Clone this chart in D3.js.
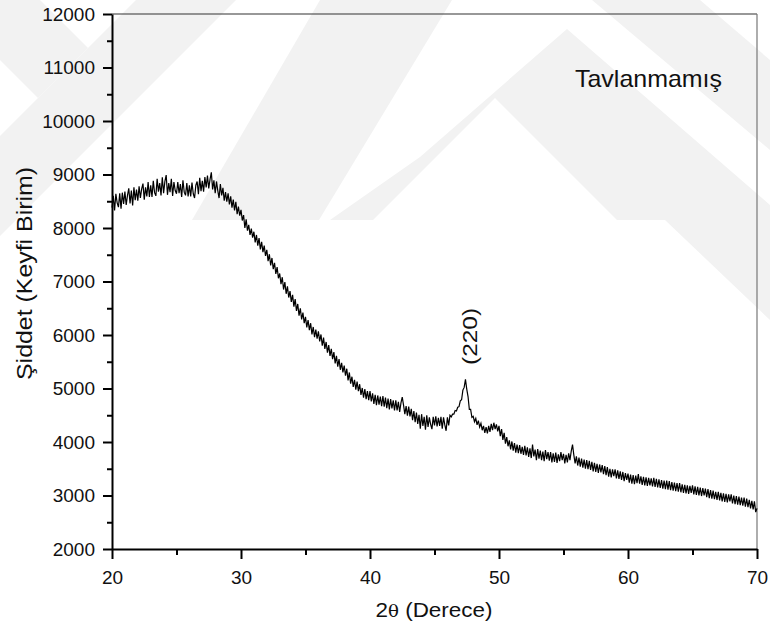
<!DOCTYPE html>
<html>
<head>
<meta charset="utf-8">
<script src="https://cdn.jsdelivr.net/npm/d3@7"></script>
<style>
  body { margin: 0; background: #fff; }
  text { font-family: "Liberation Sans", Arial, sans-serif; fill: #111; }
</style>
</head>
<body>
<svg width="770" height="637"></svg>
<script>
// 2-theta scan, one reading every 0.1 degree starting at 20
var angleStart = 20;
var angleStep = 0.1;

// Intensity, 20.0 -> 70.0
var intensity = [
  8380, 8600, 8330, 8640, 8470, 8390, 8650, 8360, 8660, 8450,
  8680, 8430, 8610, 8740, 8460, 8700, 8420, 8760, 8520, 8720,
  8510, 8780, 8560, 8730, 8830, 8530, 8760, 8590, 8860, 8580,
  8800, 8580, 8880, 8660, 8600, 8920, 8680, 8840, 8610, 8950,
  8650, 8870, 8990, 8620, 8840, 8670, 8920, 8600, 8860, 8700,
  8640, 8860, 8650, 8820, 8580, 8890, 8670, 8610, 8840, 8590,
  8800, 8590, 8850, 8640, 8560, 8800, 8870, 8630, 8940, 8690,
  8880, 8680, 8950, 8760, 8980, 8740, 8910, 9040, 8720, 8890,
  8650, 8870, 8700, 8560, 8820, 8610, 8750, 8510, 8670, 8490,
  8650, 8440, 8590, 8380, 8530, 8330, 8490, 8260, 8400, 8230,
  8340, 8140, 8240, 8000, 8160, 7950, 8060, 7870, 7990, 7820,
  7930, 7730, 7870, 7670, 7810, 7600, 7740, 7550, 7670, 7480,
  7590, 7380, 7510, 7300, 7440, 7230, 7350, 7140, 7270, 7060,
  7150, 6950, 7080, 6850, 6990, 6770, 6910, 6700, 6820, 6620,
  6750, 6530, 6670, 6450, 6580, 6360, 6500, 6290, 6420, 6220,
  6340, 6140, 6280, 6090, 6220, 6010, 6150, 5960, 6100, 5930,
  6070, 5880, 6010, 5800, 5950, 5740, 5870, 5670, 5810, 5610,
  5740, 5550, 5680, 5470, 5610, 5410, 5550, 5350, 5480, 5300,
  5430, 5240, 5370, 5150, 5300, 5090, 5220, 5030, 5160, 4980,
  5130, 4950, 5080, 4880, 5010, 4830, 4990, 4800, 4950, 4780,
  4950, 4760, 4910, 4710, 4880, 4690, 4870, 4700, 4850, 4670,
  4860, 4660, 4830, 4630, 4810, 4610, 4800, 4630, 4780, 4590,
  4780, 4590, 4750, 4560, 4730, 4840, 4690, 4520, 4670, 4490,
  4660, 4480, 4620, 4410, 4580, 4370, 4550, 4340, 4510, 4250,
  4520, 4300, 4470, 4230, 4500, 4280, 4460, 4330, 4240, 4470,
  4310, 4480, 4290, 4450, 4300, 4470, 4250, 4460, 4320, 4210,
  4460, 4310, 4500, 4470, 4520, 4520, 4590, 4580, 4650, 4660,
  4770, 4790, 4970, 5020, 5170, 4990, 4850, 4610, 4610, 4460,
  4480, 4380, 4440, 4320, 4400, 4280, 4350, 4220, 4300, 4170,
  4280, 4160, 4300, 4190, 4340, 4220, 4360, 4240, 4330, 4200,
  4300, 4110, 4240, 4040, 4170, 3970, 4090, 3920, 4030, 3860,
  4010, 3840, 3980, 3800, 3950, 3790, 3940, 3780, 3910, 3760,
  3930, 3750, 3900, 3720, 3880, 3700, 3950, 3730, 3860, 3660,
  3870, 3690, 3840, 3660, 3820, 3640, 3850, 3680, 3810, 3650,
  3810, 3620, 3790, 3630, 3800, 3610, 3770, 3640, 3810, 3660,
  3780, 3600, 3760, 3620, 3790, 3660, 3830, 3950, 3760, 3600,
  3730, 3560, 3710, 3540, 3690, 3520, 3670, 3500, 3660, 3490,
  3650, 3480, 3630, 3450, 3610, 3440, 3590, 3420, 3580, 3430,
  3570, 3400, 3550, 3380, 3530, 3350, 3500, 3340, 3490, 3360,
  3490, 3320, 3470, 3310, 3450, 3290, 3440, 3270, 3420, 3290,
  3410, 3240, 3390, 3220, 3380, 3210, 3370, 3230, 3400, 3220,
  3360, 3200, 3350, 3190, 3340, 3180, 3330, 3190, 3320, 3170,
  3330, 3160, 3310, 3150, 3300, 3140, 3290, 3130, 3280, 3120,
  3280, 3110, 3270, 3100, 3250, 3090, 3240, 3080, 3230, 3070,
  3230, 3060, 3210, 3050, 3200, 3040, 3190, 3030, 3180, 3050,
  3190, 3020, 3170, 3010, 3160, 3000, 3150, 2990, 3140, 3000,
  3130, 2970, 3120, 2950, 3100, 2940, 3090, 2930, 3070, 2920,
  3070, 2910, 3050, 2890, 3040, 2880, 3030, 2870, 3020, 2890,
  3020, 2850, 3000, 2840, 2990, 2830, 2980, 2820, 2960, 2810,
  2960, 2790, 2940, 2780, 2920, 2760, 2900, 2740, 2890, 2690,
  2760
];

var xTicks = [20, 30, 40, 50, 60, 70];
var yTicks = [2000, 3000, 4000, 5000, 6000, 7000, 8000, 9000, 10000, 11000, 12000];

var sampleName = 'Tavlanmamış';
var peakName = '(220)';
var peakAngle = 47.4;
var peakTop = 5170;

var svg = d3.select('svg');

// faint watermark behind everything (thesis centre logo)
var watermark = [
  [[136,0],[236,0],[0,236],[0,136]],
  [[0,0],[40,0],[88,48],[38,98],[0,60]],
  [[320,0],[452,0],[319,220],[192,220]],
  [[567,29],[770,205],[770,320],[665,220],[617,220],[495,98],[373,220],[330,220],[420,157]],
  [[592,0],[700,0],[770,60],[770,150]]
];
svg.append('g').selectAll('polygon')
    .data(watermark)
    .enter().append('polygon')
    .attr('points', function(d) { return d.join(' '); })
    .attr('fill', '#f2f2f2');

var padding = {t: 14, r: 13, b: 88, l: 112};
var chartWidth = 770 - padding.l - padding.r;
var chartHeight = 637 - padding.t - padding.b;

var chartG = svg.append('g')
    .attr('transform', 'translate(' + [padding.l, padding.t] + ')');

var xScale = d3.scaleLinear().domain([20, 70]).range([0, chartWidth]);
var yScale = d3.scaleLinear().domain([2000, 12000]).range([chartHeight, 0]);

var scan = intensity.map(function(v, i) {
    return {angle: angleStart + i * angleStep, value: v};
});

// thin frame on top and right
chartG.append('line')
    .attr('x1', 0).attr('x2', chartWidth)
    .attr('y1', 0).attr('y2', 0)
    .attr('stroke', '#333').attr('stroke-width', 1.2);
chartG.append('line')
    .attr('x1', chartWidth).attr('x2', chartWidth)
    .attr('y1', 0).attr('y2', chartHeight)
    .attr('stroke', '#777').attr('stroke-width', 1.2);

// the scan itself
var line = d3.line()
    .x(function(d) { return xScale(d.angle); })
    .y(function(d) { return yScale(d.value); });

chartG.append('path')
    .datum(scan)
    .attr('d', line)
    .attr('fill', 'none')
    .attr('stroke', '#000')
    .attr('stroke-width', 1.2);

// minor ticks half way between the labelled ones
var xMinor = xTicks.slice(0, -1).map(function(d) { return d + 5; });
var yMinor = yTicks.slice(0, -1).map(function(d) { return d + 500; });

chartG.append('g')
    .attr('class', 'minor')
    .attr('transform', 'translate(0,' + chartHeight + ')')
    .call(d3.axisBottom(xScale).tickValues(xMinor).tickSize(6).tickSizeOuter(0).tickFormat(''));
chartG.append('g')
    .attr('class', 'minor')
    .call(d3.axisLeft(yScale).tickValues(yMinor).tickSize(5).tickSizeOuter(0).tickFormat(''));

var fmt = d3.format('d');
chartG.append('g')
    .attr('class', 'axis')
    .attr('transform', 'translate(0,' + chartHeight + ')')
    .call(d3.axisBottom(xScale).tickValues(xTicks).tickFormat(fmt)
        .tickSize(10).tickSizeOuter(0).tickPadding(11.5));
chartG.append('g')
    .attr('class', 'axis')
    .call(d3.axisLeft(yScale).tickValues(yTicks).tickFormat(fmt)
        .tickSize(9).tickSizeOuter(0).tickPadding(8));

chartG.selectAll('.axis path, .minor path, .axis line, .minor line')
    .attr('stroke', '#000')
    .attr('stroke-width', 2);
chartG.selectAll('.minor path').remove();
chartG.selectAll('.axis')
    .attr('font-family', '"Liberation Sans", Arial, sans-serif')
    .attr('font-size', 19);
chartG.selectAll('.axis text')
    .attr('fill', '#111');

// axis titles
svg.append('text')
    .attr('transform', 'translate(24,273.5) rotate(-90)')
    .attr('text-anchor', 'middle')
    .attr('dy', '0.35em')
    .attr('textLength', 213)
    .attr('lengthAdjust', 'spacingAndGlyphs')
    .style('font-size', '22px')
    .text('Şiddet (Keyfi Birim)');

var xTitle = svg.append('text')
    .attr('x', 434)
    .attr('y', 617)
    .attr('text-anchor', 'middle')
    .attr('textLength', 117)
    .attr('lengthAdjust', 'spacingAndGlyphs')
    .style('font-size', '21px');
xTitle.append('tspan').text('2');
xTitle.append('tspan').style('font-family', '"DejaVu Serif", serif').style('font-size', '17px').text('θ');
xTitle.append('tspan').text(' (Derece)');

// sample label
chartG.append('text')
    .attr('x', 463)
    .attr('y', 73)
    .attr('textLength', 147)
    .attr('lengthAdjust', 'spacingAndGlyphs')
    .style('font-size', '24px')
    .text(sampleName);

// peak index next to the reflection
chartG.append('text')
    .attr('transform', 'translate(' + (xScale(peakAngle) + 4.5) + ',' + (yScale(peakTop) - 43) + ') rotate(-90)')
    .attr('text-anchor', 'middle')
    .attr('dy', '0.35em')
    .attr('textLength', 57)
    .attr('lengthAdjust', 'spacingAndGlyphs')
    .style('font-size', '20px')
    .text(peakName);
</script>
</body>
</html>
